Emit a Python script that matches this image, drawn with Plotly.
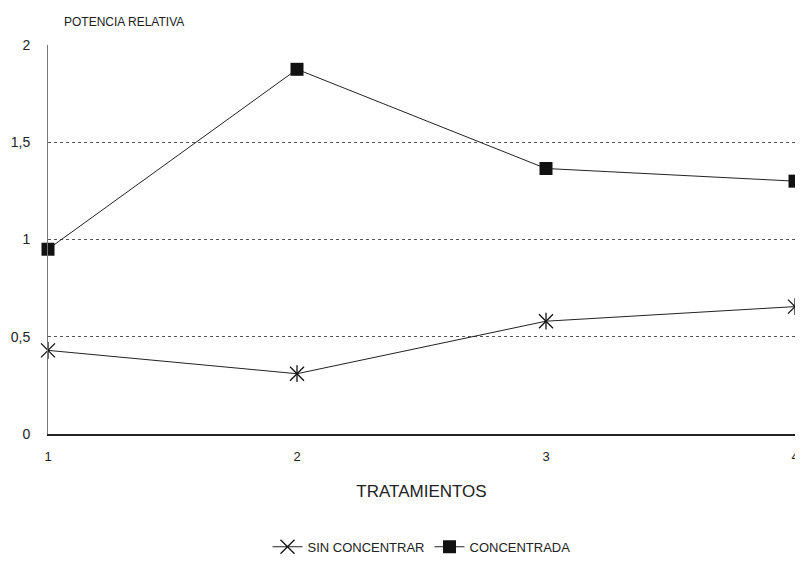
import plotly.graph_objects as go

tratamientos = [1, 2, 3, 4]
sin_concentrar = [0.43, 0.31, 0.58, 0.655]
concentrada = [0.95, 1.875, 1.365, 1.30]
y_ticks = [0, 0.5, 1, 1.5, 2]
y_tick_labels = ["0", "0,5", "1", "1,5", "2"]
x_ticks = [1, 2, 3, 4]

FONT = "Liberation Sans, Arial, sans-serif"

fig = go.Figure()
fig.add_trace(go.Scatter(
    x=tratamientos, y=sin_concentrar, mode="lines+markers", name="SIN CONCENTRAR",
    line=dict(color="#222", width=1),
    marker=dict(symbol="x-thin-open", size=14, line=dict(color="#111", width=1.3), color="#111"),
    cliponaxis=False,
))
fig.add_trace(go.Scatter(
    x=tratamientos, y=sin_concentrar, mode="markers", showlegend=False, hoverinfo="skip",
    marker=dict(symbol="line-ns-open", size=12, color="#111", line=dict(color="#111", width=1.3)),
    cliponaxis=False,
))
fig.add_trace(go.Scatter(
    x=tratamientos, y=concentrada, mode="lines+markers", name="CONCENTRADA",
    line=dict(color="#222", width=1),
    marker=dict(symbol="square", size=13, color="#111"),
    cliponaxis=False,
))

# page body adds an 8px offset, so the figure is sized to fit inside the window
fig.update_layout(
    width=790, height=548,
    margin=dict(l=40, r=3, t=37, b=122, autoexpand=False),
    paper_bgcolor="white", plot_bgcolor="white",
    font=dict(family=FONT, size=13, color="#222"),
    showlegend=True,
    legend=dict(orientation="h", x=0.5, xanchor="center", y=-0.29, yanchor="middle",
                font=dict(size=13, color="#222"), itemwidth=30),
    xaxis=dict(
        range=[1, 4], tickvals=x_ticks, ticktext=[str(v) for v in x_ticks],
        showgrid=False, zeroline=False, showline=True, linecolor="#222", linewidth=1.5,
        ticks="", ticklabelstandoff=10, automargin=False, tickfont=dict(size=13),
        ticklabeloverflow="allow",
        title=dict(text="TRATAMIENTOS", font=dict(size=17, color="#222"), standoff=22),
    ),
    yaxis=dict(
        range=[0, 2], tickvals=y_ticks, ticktext=y_tick_labels,
        showgrid=True, gridcolor="#555", griddash="dot", gridwidth=1,
        zeroline=False, showline=True, linecolor="#777", linewidth=1, mirror=True,
        ticks="", ticklabelstandoff=14, tickfont=dict(size=14), automargin=False,
    ),
    annotations=[dict(text="POTENCIA RELATIVA", xref="paper", yref="paper",
                      x=14/747, xanchor="left", y=1.0, yanchor="bottom", yshift=14,
                      showarrow=False, font=dict(size=12, color="#222"))],
)
fig.write_html("out.html")
